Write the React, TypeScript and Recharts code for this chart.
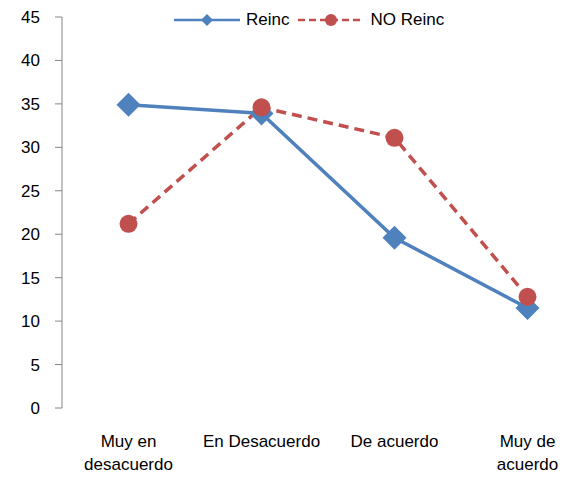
import React from 'react';
import { LineChart, Line, XAxis, YAxis, Legend } from 'recharts';

const categories = ['Muy en\ndesacuerdo', 'En Desacuerdo', 'De acuerdo', 'Muy de\nacuerdo'];
const reinc = [34.9, 33.9, 19.6, 11.5];
const noReinc = [21.2, 34.6, 31.1, 12.8];
const seriesNames = ['Reinc', 'NO Reinc'];
const yTicks = [0, 5, 10, 15, 20, 25, 30, 35, 40, 45];
const edgeTicks = [0, 1, 2, 3, 4];

const BLUE = '#4F81BD';
const RED = '#C0504D';
const AXIS = '#868686';
const FONT = '"Liberation Sans", Arial, sans-serif';

const data = categories.map((name, i) => ({
    name,
    reinc: reinc[i],
    noReinc: noReinc[i],
}));

const Diamond = (props: any) => {
    const { cx, cy, size } = props;
    if (cx == null || cy == null) return null;
    return (
        <path
            d={`M${cx},${cy - size} L${cx + size},${cy} L${cx},${cy + size} L${cx - size},${cy} Z`}
            fill={BLUE}
        />
    );
};

const CategoryTick = (props: any) => {
    const { x, y, payload } = props;
    const lines = String(payload.value).split('\n');
    return (
        <text x={x} y={y} textAnchor="middle" fontFamily={FONT} fontSize={17} fill="#000">
            {lines.map((l, i) => (
                <tspan key={i} x={x} dy={i === 0 ? 39 : 23}>{l}</tspan>
            ))}
        </text>
    );
};

const LegendContent = (props: any) => {
    const payload = [...(props.payload || [])].sort(
        (a: any, b: any) => seriesNames.indexOf(a.value) - seriesNames.indexOf(b.value)
    );
    return (
        <div style={{ display: 'flex', alignItems: 'center', fontFamily: FONT, fontSize: 17, color: '#000' }}>
            {payload.map((item: any) => {
                const isReinc = item.dataKey === 'reinc';
                return (
                    <div key={item.value} style={{ display: 'flex', alignItems: 'center', marginRight: 9 }}>
                        <svg width={66} height={16} style={{ display: 'block' }}>
                            {isReinc ? (
                                <>
                                    <line x1={0} y1={8} x2={66} y2={8} stroke={BLUE} strokeWidth={2.5} />
                                    <path d="M33,2 L39,8 L33,14 L27,8 Z" fill={BLUE} />
                                </>
                            ) : (
                                <>
                                    <line x1={0} y1={8} x2={66} y2={8} stroke={RED} strokeWidth={2.5} strokeDasharray="7 4" />
                                    <circle cx={33} cy={8} r={6} fill={RED} />
                                </>
                            )}
                        </svg>
                        <span style={{ marginLeft: 6 }}>{item.value}</span>
                    </div>
                );
            })}
        </div>
    );
};

export default function App() {
    return (
        <div style={{ position: 'absolute', left: 0, top: 0, width: 568, height: 477, overflow: 'hidden', background: '#fff' }}>
            <LineChart
                width={600}
                height={477}
                data={data}
                margin={{ top: 17, right: 6, left: 0, bottom: 0 }}
            >
                <XAxis
                    xAxisId="edges"
                    type="number"
                    domain={[0, 4]}
                    ticks={edgeTicks}
                    tick={false}
                    height={0}
                    tickSize={7}
                    stroke={AXIS}
                    axisLine={{ stroke: AXIS }}
                    tickLine={{ stroke: AXIS }}
                />
                <XAxis
                    dataKey="name"
                    scale="band"
                    height={69}
                    axisLine={false}
                    tickLine={false}
                    tickSize={0}
                    tickMargin={0}
                    interval={0}
                    tick={<CategoryTick />}
                />
                <YAxis
                    domain={[0, 45]}
                    ticks={yTicks}
                    width={62}
                    tickSize={7}
                    tickMargin={15}
                    axisLine={{ stroke: AXIS }}
                    tickLine={{ stroke: AXIS }}
                    tick={{ fontFamily: FONT, fontSize: 17, fill: '#000' }}
                    interval={0}
                />
                <Legend
                    verticalAlign="middle"
                    align="center"
                    layout="horizontal"
                    wrapperStyle={{ top: 10, left: 174, width: 'auto' }}
                    content={<LegendContent />}
                />
                <Line
                    dataKey="reinc"
                    name={seriesNames[0]}
                    stroke={BLUE}
                    strokeWidth={3.5}
                    dot={(p: any) => <Diamond key={`d${p.index}`} {...p} size={12} />}
                    isAnimationActive={false}
                />
                <Line
                    dataKey="noReinc"
                    name={seriesNames[1]}
                    stroke={RED}
                    strokeWidth={3.5}
                    strokeDasharray="10 6"
                    dot={{ r: 9, fill: RED, stroke: 'none' }}
                    isAnimationActive={false}
                />
            </LineChart>
        </div>
    );
}
